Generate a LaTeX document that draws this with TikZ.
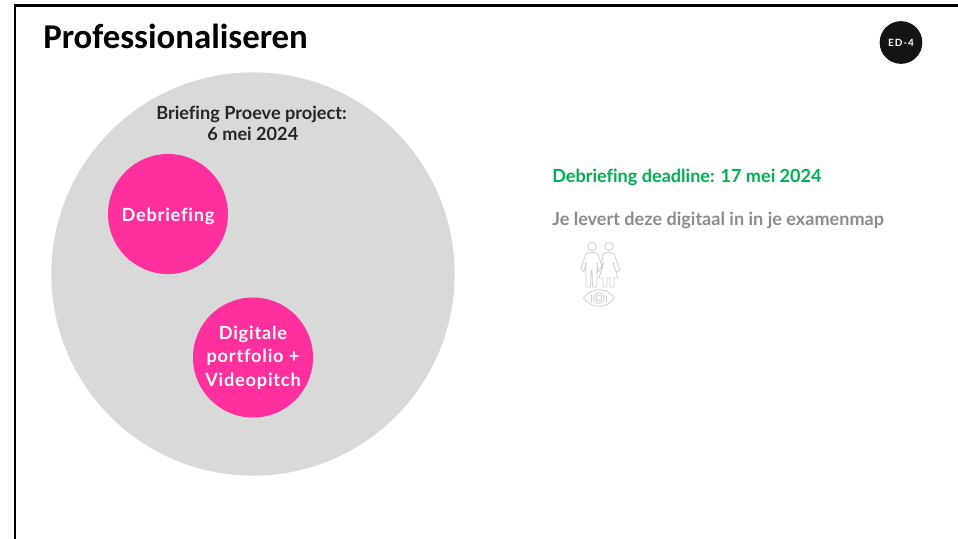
\documentclass[tikz,border=0pt]{standalone}
\usepackage{fontspec}
\setmainfont[Ligatures=NoCommon]{Lato}
\newfontfamily\titlefont{Carlito}
\newfontfamily\spacedfont[LetterSpace=4.5,Ligatures=NoCommon]{Lato}
\newfontfamily\badgefont[LetterSpace=9,Ligatures=NoCommon]{Lato}
\definecolor{disc}{HTML}{D9D9D9}
\definecolor{hot}{HTML}{FF2F9E}
\definecolor{okgreen}{HTML}{00B050}
\definecolor{midgray}{HTML}{8C8C8C}
\definecolor{iconline}{HTML}{CFCFCF}
\definecolor{badge}{HTML}{141416}
\tikzset{
  big/.style={circle,fill=disc,draw=none,minimum size=302.5pt,inner sep=0pt},
  pink/.style={circle,fill=hot,draw=none,inner sep=0pt,text=white,align=center,font=\fontsize{13.6}{17.5}\selectfont\bfseries\spacedfont},
  lab/.style={inner sep=0pt,anchor=west,font=\fontsize{13.55}{16}\selectfont\bfseries},
  icon/.style={draw=iconline,line width=0.6pt,fill=none}
}
\begin{document}
\begin{tikzpicture}[x=0.75pt,y=-0.75pt]
\useasboundingbox (0,0) rectangle (958,539);
\fill[white] (0,0) rectangle (958,539);
\coordinate (tl) at (15,5.5);
\coordinate (tr) at (958,5.5);
\coordinate (bl) at (15,539);
\draw[black,line width=2pt] (tr) -- (tl) -- (bl);
\node[inner sep=0pt,anchor=west,font=\fontsize{26.1}{30}\selectfont\bfseries\titlefont] (title) at (43,36) {Professionaliseren};
\node[circle,fill=badge,minimum size=32pt,inner sep=0pt,text=white,font=\fontsize{7.5}{9}\selectfont\bfseries\badgefont] (badge) at (901,42.5) {ED-4};
\node[big] (outer) at (253,274) {};
\node[inner sep=0pt,align=center,text=black!85,font=\fontsize{13.6}{16.2}\selectfont\bfseries] (brief) at (251.5,123.5) {Briefing Proeve project:\\\hspace*{2pt}6 mei 2024};
\node[pink,minimum size=90pt,text height=10.5pt,text depth=0pt] (deb) at (168,214) {Debriefing};
\node[pink,minimum size=90pt] (dig) at (253,357.5) {Digitale\\portfolio +\\Videopitch};
\node[lab,text=okgreen] (dl) at (552,177) {Debriefing deadline: 17 mei 2024};
\node[lab,text=midgray] (je) at (552,220.5) {Je levert deze digitaal in in je examenmap};
% icon: two figures above an eye
\draw[icon] (592,246.5) circle (4.2);
\draw[icon] (609,246.5) circle (4.2);
\draw[icon] (586,254) .. controls (589,252) and (595,252) .. (598,254) -- (602,266) -- (598,272) -- (597,262) -- (597,287) -- (592.5,287) -- (592,270) -- (591,270) -- (590.5,287) -- (586,287) -- (586,262) -- (584,272) -- (581,268) -- cycle;
\draw[icon] (603,254) .. controls (606,252) and (611,252) .. (614,254) -- (620,270) -- (616,272) -- (613,262) -- (618,278) -- (614,278) -- (614,287) -- (610,287) -- (610,278) -- (607,278) -- (607,287) -- (603,287) -- (603,278) -- (599,278) -- (604,262) -- (601,272) -- cycle;
\draw[icon] (583.5,298) .. controls (591,287) and (607,287) .. (614.5,298) .. controls (607,309) and (591,309) .. (583.5,298) -- cycle;
\draw[icon] (599,298) circle (5.5);
\draw[icon] (599,298) circle (3);
\draw[icon] (591.5,294.5) -- (591.5,301.5);
\draw[icon] (606.5,294.5) -- (606.5,301.5);
\end{tikzpicture}
\end{document}
